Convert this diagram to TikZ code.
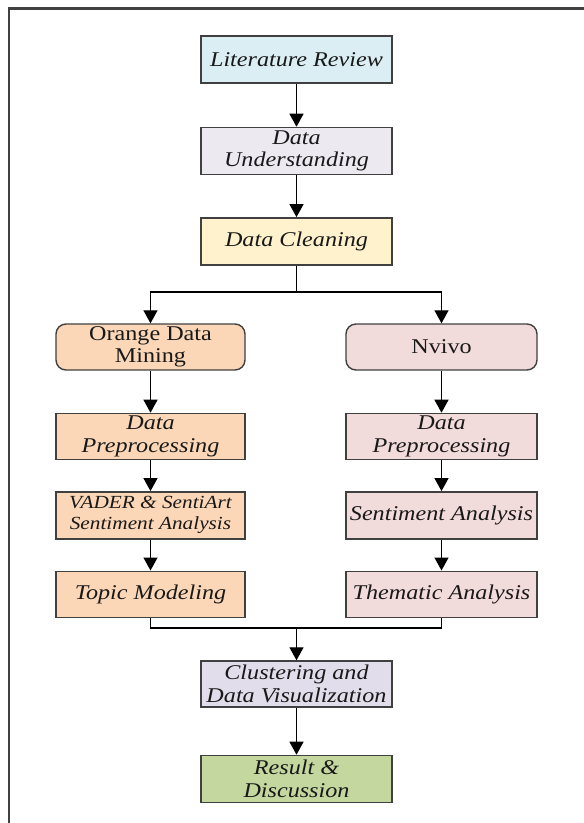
\documentclass[tikz,border=0pt]{standalone}
\usepackage{fontspec}
\setmainfont{Liberation Serif}[FakeStretch=1.15]
\usepackage{tikz}
\usetikzlibrary{positioning,arrows.meta}
\definecolor{litblue}{HTML}{DBEEF3}
\definecolor{undgray}{HTML}{ECE9F1}
\definecolor{clnyellow}{HTML}{FFF2CC}
\definecolor{orgpeach}{HTML}{FBD7B8}
\definecolor{nvpink}{HTML}{F2DCDB}
\definecolor{clulilac}{HTML}{E1DDEA}
\definecolor{resgreen}{HTML}{C4D79E}
\definecolor{edgegray}{HTML}{404040}

\begin{document}
\begin{tikzpicture}[x=1pt,y=1pt,every text node part/.style={align=center},
  font=\fontsize{21}{22.5}\selectfont\itshape,
  stage/.style={draw=edgegray,line width=1.4pt,minimum width=191pt,minimum height=47pt,inner sep=0pt,text=black!90},
  tool/.style={stage,rounded corners=10pt,font=\fontsize{21}{22.5}\selectfont\upshape},
  flow/.style={line width=1.3pt,-{Triangle[length=13pt,width=14pt]}},
  link/.style={line width=1.3pt}]
\useasboundingbox (0,0) rectangle (584,-823);
\draw[line width=2.2pt,draw=black!75] (9,-823) -- (9,-8.5) -- (584,-8.5);
\node[stage,fill=litblue] (lit) at (296.5,-59.5) {Literature Review};
\node[stage,fill=undgray,below=43pt of lit] (und) {Data\\Understanding};
\node[stage,fill=clnyellow,below=42pt of und] (cln) {Data Cleaning};
\node[tool,fill=orgpeach,minimum width=189pt,minimum height=46pt] (orange) at (150.5,-347) {Orange Data\\Mining};
\node[tool,fill=nvpink,minimum width=191pt,minimum height=46pt] (nvivo) at (441.5,-347) {Nvivo};
\node[stage,fill=orgpeach,minimum width=189pt,minimum height=46pt,below=42pt of orange] (dpl) {Data\\Preprocessing};
\node[stage,fill=nvpink,minimum height=46pt,below=42pt of nvivo] (dpr) {Data\\Preprocessing};
\node[stage,fill=orgpeach,minimum width=189pt,below=31pt of dpl,font=\fontsize{18.5}{21}\selectfont\itshape] (vader) {VADER \& SentiArt\\Sentiment Analysis};
\node[stage,fill=nvpink,below=31pt of dpr] (senti) {Sentiment Analysis};
\node[stage,fill=orgpeach,minimum width=189pt,minimum height=46pt,below=31pt of vader] (topic) {Topic Modeling};
\node[stage,fill=nvpink,minimum height=46pt,below=31pt of senti] (thema) {Thematic Analysis};
\node[stage,fill=clulilac,minimum height=46pt] (clust) at (296.5,-684) {Clustering and\\Data Visualization};
\node[stage,fill=resgreen,below=47pt of clust] (res) {Result \&\\Discussion};
\coordinate (split) at (296.5,-292);
\coordinate (merge) at (296.5,-628);
\draw[flow] (lit) -- (und);
\draw[flow] (und) -- (cln);
\draw[link] (cln) -- (split);
\draw[flow] (split) -| (orange);
\draw[flow] (split) -| (nvivo);
\draw[flow] (orange) -- (dpl);
\draw[flow] (nvivo) -- (dpr);
\draw[flow] (dpl) -- (vader);
\draw[flow] (dpr) -- (senti);
\draw[flow] (vader) -- (topic);
\draw[flow] (senti) -- (thema);
\draw[link] (topic) |- (merge) -| (thema);
\draw[flow] (merge) -- (clust);
\draw[flow] (clust) -- (res);
\end{tikzpicture}
\end{document}
